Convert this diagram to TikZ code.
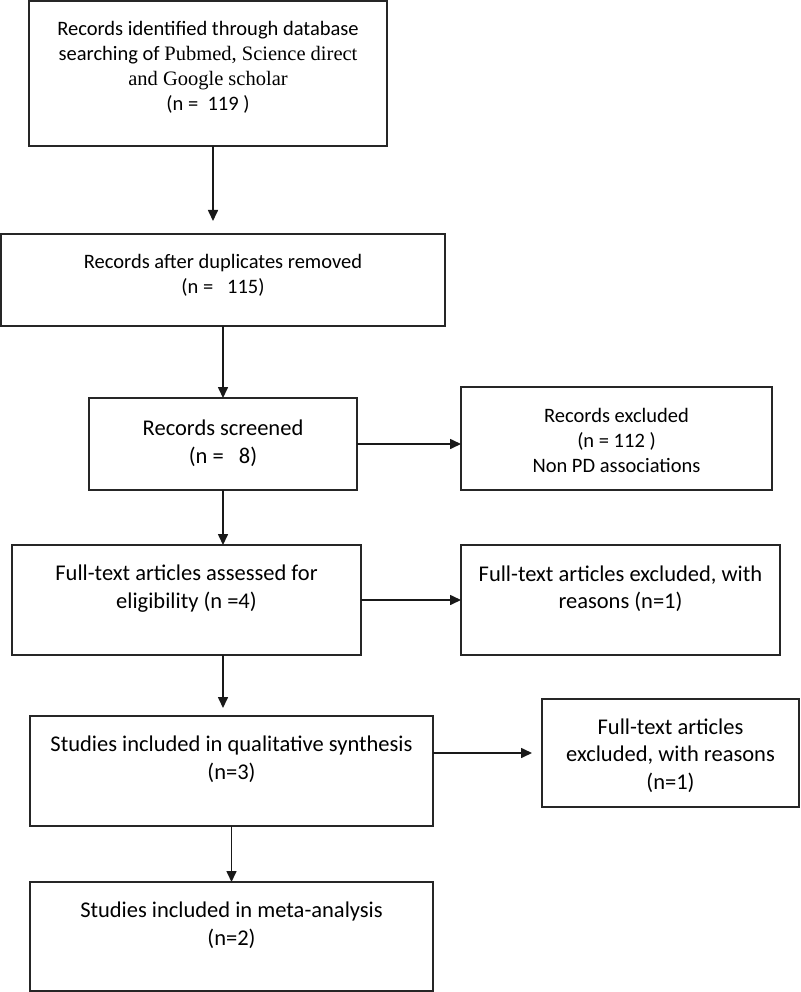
\documentclass[tikz,border=0pt]{standalone}
\usepackage{fontspec}
\setmainfont{Carlito}
\newfontfamily\serifpart{Liberation Serif}
\usetikzlibrary{arrows.meta}
\begin{document}
\begin{tikzpicture}[x=1pt,y=-1pt,
  box/.style={draw=black!85, line width=1.6pt, inner sep=0pt, outer sep=0pt, rectangle},
  txt/.style={align=center, inner sep=0pt, text=black},
  arr/.style={line width=1.6pt, draw=black!90, -{Triangle[length=11pt,width=10pt]}},
  fA/.style={font=\fontsize{20.5}{25}\selectfont},
  fB/.style={font=\fontsize{22.5}{27.5}\selectfont}]
\useasboundingbox (0,0) rectangle (800,992);
% boxes
\node[box, minimum width=358, minimum height=145] (b1) at (208,73.5) {};
\node[box, minimum width=444, minimum height=92] (b2) at (223,280) {};
\node[box, minimum width=268, minimum height=92] (b3) at (223,444) {};
\node[box, minimum width=311, minimum height=103] (b4) at (616.5,438.5) {};
\node[box, minimum width=349, minimum height=110] (b5) at (186.5,600) {};
\node[box, minimum width=319, minimum height=110] (b6) at (620.5,600) {};
\node[box, minimum width=403, minimum height=110] (b7) at (231.5,771) {};
\node[box, minimum width=257, minimum height=108] (b8) at (670.5,753) {};
\node[box, minimum width=403, minimum height=109] (b9) at (231.5,936.5) {};
% texts
\node[txt, fA] (t1) at (208,67) {Records identified through database\\searching of {\serifpart Pubmed, Science direct}\\{\serifpart and Google scholar}\\(n =\ \ 119 )};
\node[txt, fA] (t2) at (223,275.5) {Records after duplicates removed\\(n =\ \ \ 115)};
\node[txt, font=\fontsize{22.5}{28}\selectfont] (t3) at (223,443) {Records screened\\(n =\ \ \ 8)};
\node[txt, fA] (t4) at (616.5,440) {Records excluded\\(n = 112 )\\Non PD associations};
\node[txt, fB] (t5) at (186.5,588.5) {Full-text articles assessed for\\eligibility (n =4)};
\node[txt, fB] (t6) at (620.5,588.5) {Full-text articles excluded, with\\reasons (n=1)};
\node[txt, fB] (t7) at (231.5,759) {Studies included in qualitative synthesis\\(n=3)};
\node[txt, fB] (t8) at (670.5,755.5) {Full-text articles\\excluded, with reasons\\(n=1)};
\node[txt, fB] (t9) at (231.5,925) {Studies included in meta-analysis\\(n=2)};
% arrows
\draw[arr, shorten >=13pt] ([xshift=5pt]b1.south) -- ([xshift=5pt]b1.south |- b2.north);
\draw[arr] (b2.south) -- (b3.north);
\draw[arr] (b3.east) -- (b3.east -| b4.west);
\draw[arr] (b3.south) -- (b3.south |- b5.north);
\draw[arr] (b5.east) -- (b5.east -| b6.west);
\draw[arr, shorten >=8pt] (b5.south -| b3.south) -- (b7.north -| b3.south);
\draw[arr, shorten >=10pt] (b7.east |- b8.west) -- (b8.west);
\draw[arr] (b7.south) -- (b9.north);
\end{tikzpicture}
\end{document}
